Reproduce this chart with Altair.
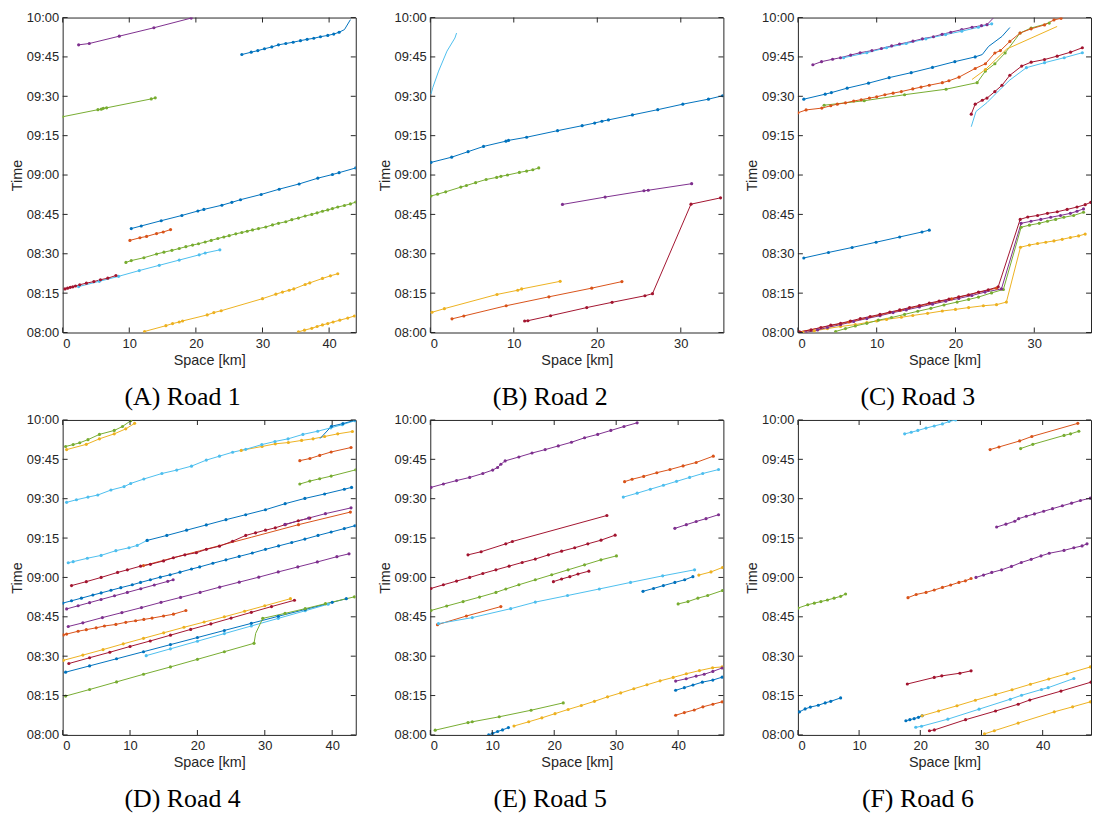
import altair as alt
import pandas as pd

# MATLAB default line colours, one per vehicle series
PALETTE = {
    "blue": "#0072BD", "orange": "#D95319", "yellow": "#EDB120", "purple": "#7E2F8E",
    "green": "#77AC30", "cyan": "#4DBEEE", "darkred": "#A2142F",
}
CAPTIONS = ["(A) Road 1", "(B) Road 2", "(C) Road 3", "(D) Road 4", "(E) Road 5", "(F) Road 6"]
X_MAX = [44.0, 35.1, 37.2, 43.5, 47.3, 47.9]          # road length [km]
X_TICKS = [0, 10, 20, 30, 40]
T_TICKS = [0, 15, 30, 45, 60, 75, 90, 105, 120]       # minutes after 08:00

# each trajectory: (colour, space [km], time [min after 08:00], optional marker flags)
ROAD1 = [
    ("purple", [2.4, 4.0, 8.5, 13.7, 19.3], [109.6, 110.1, 112.9, 116.1, 119.8]),
    ("blue", [26.9, 28.3, 29.3, 30.3, 31.4, 32.4, 33.5, 34.6, 35.7, 36.7, 37.7, 38.7, 39.8, 40.7, 41.5, 42.3, 43.2],
     [105.9, 106.8, 107.4, 108.1, 108.8, 109.6, 110.1, 110.6, 111.2, 111.7, 112.1, 112.7, 113.2, 113.7, 114.4, 115.4, 119.2],
     [1] * 15 + [0, 0]),
    ("green", [0.0, 5.3, 5.8, 6.1, 6.6, 13.3, 13.9], [82.2, 84.9, 85.1, 85.4, 85.6, 89.0, 89.4]),
    ("blue", [10.3, 11.8, 14.8, 17.9, 20.3, 21.2, 23.9, 25.4, 26.7, 29.8, 32.5, 35.5, 38.3, 40.5, 41.5, 44.0],
     [39.6, 40.6, 42.6, 44.6, 46.3, 46.9, 48.5, 49.6, 50.6, 52.6, 54.6, 56.6, 58.8, 60.2, 60.9, 62.7]),
    ("orange", [10.1, 11.6, 12.6, 14.1, 15.1, 16.2], [35.1, 36.1, 36.6, 37.7, 38.3, 39.2]),
    ("green", [9.5, 10.3, 12.2, 14.1, 15.2, 16.4, 17.5, 18.5, 19.5, 20.4, 21.4, 22.3, 23.3, 24.2, 25.0, 26.0, 26.9, 27.7,
               28.5, 29.4, 30.5, 31.5, 32.4, 33.5, 34.4, 35.4, 36.4, 37.4, 38.2, 39.0, 39.8, 40.5, 41.3, 42.3, 43.2, 44.0],
     [26.7, 27.4, 28.5, 29.9, 30.6, 31.3, 32.0, 32.7, 33.3, 33.8, 34.5, 35.1, 35.8, 36.4, 36.9, 37.6, 38.1, 38.6,
      39.1, 39.6, 40.2, 41.0, 41.6, 42.2, 43.0, 43.6, 44.4, 45.0, 45.6, 46.2, 46.7, 47.2, 47.8, 48.4, 49.0, 49.7]),
    ("cyan", [2.4, 5.5, 8.4, 11.5, 14.5, 17.5, 20.5, 21.4, 23.6], [17.5, 19.5, 21.4, 23.6, 25.6, 27.6, 29.6, 30.3, 31.5]),
    ("darkred", [0.35, 0.74, 1.14, 1.53, 1.93, 2.57, 3.56, 4.69, 5.68, 6.77, 8.0],
     [16.6, 16.9, 17.2, 17.4, 17.7, 18.2, 18.8, 19.4, 20.1, 20.7, 21.7]),
    ("yellow", [12.3, 15.5, 16.5, 17.5, 18.0, 21.7, 22.7, 23.8, 30.0, 32.0, 33.0, 34.0, 34.7, 36.4, 37.1, 39.0, 40.2, 41.3],
     [0.4, 2.6, 3.4, 4.0, 4.4, 6.7, 7.6, 8.3, 12.9, 14.6, 15.4, 16.1, 16.6, 18.3, 18.9, 20.6, 21.6, 22.4]),
    ("yellow", [35.4, 36.3, 37.4, 38.2, 39.0, 39.8, 40.6, 41.6, 42.8, 43.8], [0.25, 0.9, 1.6, 2.3, 2.9, 3.4, 4.0, 4.7, 5.5, 6.3]),
]

ROAD2 = [
    ("cyan", [0.08, 0.3, 1.0, 2.0, 2.95, 3.15], [90.8, 93.3, 99.6, 107.2, 112.2, 114.1], [0] * 6),
    ("blue", [0.08, 2.56, 4.53, 6.38, 9.06, 9.37, 11.54, 15.24, 18.19, 19.69, 20.55, 21.34, 24.21, 27.24, 30.24, 33.31, 35.0],
     [64.8, 66.8, 68.9, 70.9, 72.9, 73.2, 74.4, 76.9, 78.8, 79.8, 80.5, 81.0, 82.9, 84.9, 87.0, 88.9, 90.2]),
    ("green", [0.08, 0.87, 1.85, 3.66, 4.33, 5.43, 6.69, 7.95, 8.46, 9.25, 10.67, 11.54, 12.28, 12.99],
     [52.0, 52.7, 53.6, 55.4, 56.0, 57.1, 58.3, 59.1, 59.5, 60.0, 61.0, 61.5, 62.0, 62.7]),
    ("purple", [15.83, 20.94, 25.59, 26.10, 31.30], [48.8, 51.6, 54.0, 54.2, 56.7]),
    ("darkred", [11.30, 11.69, 14.41, 18.74, 21.77, 25.71, 26.61, 31.22, 34.76], [4.4, 4.5, 6.4, 9.5, 11.5, 14.0, 14.8, 48.9, 51.3]),
    ("orange", [2.60, 4.02, 9.09, 14.21, 19.33, 22.95], [5.2, 6.3, 10.2, 13.6, 16.9, 19.4]),
    ("yellow", [0.2, 1.69, 7.99, 10.47, 10.94, 15.55], [7.7, 9.1, 14.5, 16.1, 16.6, 19.5]),
]

ROAD3 = [
    ("purple", [1.9, 3.0, 4.4, 5.4, 6.7, 7.9, 9.4, 10.6, 11.9, 12.9, 14.6, 15.8, 17.2, 18.3, 19.4, 20.8, 22.1, 23.3, 24.0, 24.8],
     [102.0, 103.2, 104.1, 104.7, 105.7, 106.6, 107.4, 108.2, 109.2, 109.9, 111.0, 111.9, 112.7, 113.6, 114.4, 115.4, 116.3, 116.9, 117.3, 119.8],
     [1] * 19 + [0]),
    ("cyan", [5.8, 8.75, 11.25, 13.75, 16.25, 18.75, 20.8, 22.9, 24.6], [104.7, 106.6, 108.5, 110.1, 111.9, 113.5, 114.8, 116.3, 117.6]),
    ("blue", [0.75, 3.46, 4.25, 6.25, 8.96, 11.58, 14.38, 17.08, 19.92, 22.5, 23.4, 24.2, 25.9, 26.9],
     [88.9, 90.8, 91.4, 93.1, 95.0, 97.1, 99.0, 101.0, 103.2, 105.0, 105.9, 109.0, 112.8, 116.2], [1] * 10 + [0] * 4),
    ("green", [3.33, 8.42, 13.54, 18.8, 22.75, 23.8, 25.0, 26.3, 28.2, 29.6, 31.9],
     [86.6, 88.3, 90.6, 92.7, 95.2, 99.6, 102.4, 106.5, 114.1, 116.0, 117.9]),
    ("orange", [0.0, 1.04, 3.04, 4.17, 5.0, 6.04, 7.08, 8.04, 9.08, 10.0, 11.04, 12.08, 13.13, 14.58, 15.63, 16.67, 18.33,
                19.17, 20.45, 22.5, 23.8, 25.0, 25.7, 26.9, 28.2, 29.6, 31.3, 32.5, 33.4],
     [83.7, 84.8, 85.5, 86.4, 87.0, 87.5, 88.2, 88.7, 89.3, 89.8, 90.6, 91.2, 91.8, 92.8, 93.5, 94.2, 95.2,
      95.9, 97.3, 100.6, 102.4, 106.5, 107.4, 110.9, 114.1, 115.7, 117.2, 119.1, 119.7]),
    ("yellow", [22.1, 23.8, 26.5, 32.9], [96.4, 100.2, 108.0, 116.6], [0, 1, 0, 0]),
    ("darkred", [22.0, 22.5, 23.4, 24.0, 25.0, 25.9, 26.9, 28.4, 29.6, 31.3, 32.9, 34.6, 36.1],
     [83.2, 87.0, 88.5, 89.3, 91.8, 94.2, 98.0, 101.5, 103.0, 104.0, 105.3, 106.8, 108.5]),
    ("cyan", [22.0, 22.6, 24.0, 25.45, 26.9, 29.0, 31.3, 33.8, 36.1], [78.4, 84.2, 87.6, 92.0, 96.2, 100.9, 102.8, 104.7, 106.6],
     [0, 0, 0, 0, 0, 1, 1, 1, 1]),
    ("blue", [0.75, 3.88, 6.88, 9.92, 12.92, 15.75, 16.67], [28.4, 30.5, 32.4, 34.4, 36.4, 38.3, 39.0]),
    ("yellow", [0.63, 2.08, 3.75, 5.42, 7.29, 8.75, 10.0, 11.25, 13.13, 14.58, 16.46, 18.33, 20.0, 21.67, 23.54, 25.21, 26.46,
                28.25, 29.38, 30.42, 31.46, 32.5, 33.54, 34.58, 35.63, 36.46],
     [0.0, 0.6, 1.5, 2.3, 3.0, 3.8, 4.4, 5.0, 5.8, 6.5, 7.3, 8.2, 8.8, 9.5, 10.2, 10.6, 11.6,
      32.5, 33.3, 33.9, 34.4, 34.9, 35.5, 36.2, 36.8, 37.5]),
    ("green", [4.79, 6.04, 7.29, 8.75, 10.21, 11.88, 13.54, 15.21, 16.88, 18.54, 20.21, 21.67, 22.92, 24.58, 26.08,
               28.33, 29.38, 30.63, 31.67, 32.71, 33.75, 35.0, 36.25],
     [0.4, 1.5, 2.5, 3.5, 4.7, 5.7, 6.9, 8.1, 9.2, 10.5, 11.6, 12.6, 13.5, 15.1, 16.4,
      40.1, 40.9, 41.6, 42.4, 43.1, 43.9, 44.6, 45.8]),
    ("purple", [1.04, 2.5, 3.75, 5.42, 7.08, 8.75, 10.42, 12.08, 13.75, 15.42, 17.08, 18.75, 20.42, 22.08, 23.75, 25.83,
                28.33, 29.58, 30.83, 32.08, 33.33, 34.58, 35.42, 36.25],
     [0.0, 1.0, 1.9, 3.0, 4.2, 5.3, 6.4, 7.6, 8.6, 9.7, 10.8, 11.9, 13.0, 14.1, 15.4, 16.6,
      41.6, 42.4, 43.1, 43.9, 44.6, 45.4, 46.2, 47.1]),
    ("orange", [0.0, 6.5, 13.0, 19.5, 25.2], [0.1, 4.0, 8.5, 12.8, 16.9]),
    ("darkred", [0.21, 1.67, 2.92, 4.17, 5.42, 6.67, 7.92, 9.17, 10.42, 11.67, 12.92, 14.17, 15.42, 16.67, 17.92, 19.17,
                 20.42, 21.67, 22.92, 24.17, 25.42, 28.21, 29.17, 30.42, 31.67, 32.92, 34.17, 35.42, 36.46, 37.17],
     [0.25, 1.0, 1.9, 2.8, 3.5, 4.4, 5.3, 6.1, 6.9, 7.8, 8.6, 9.5, 10.3, 11.2, 12.0, 12.7,
      13.6, 14.4, 15.4, 16.3, 17.4, 43.1, 44.0, 44.6, 45.4, 46.0, 46.9, 47.8, 48.7, 49.6]),
]

ROAD4 = [
    ("green", [0.44, 1.56, 2.54, 3.76, 5.46, 7.66, 8.88, 10.1], [109.9, 110.6, 111.3, 112.5, 114.5, 116.0, 117.5, 119.7]),
    ("yellow", [0.59, 3.51, 5.46, 7.66, 9.37, 10.68], [108.7, 110.7, 112.8, 114.7, 116.6, 118.7]),
    ("yellow", [26.5, 29.6, 31.56, 33.5, 35.46, 37.17, 38.88, 40.83, 43.0], [108.4, 109.9, 110.9, 111.4, 112.2, 112.8, 113.7, 114.7, 115.6]),
    ("cyan", [0.59, 2.05, 3.76, 5.22, 7.17, 9.12, 10.1, 12.05, 14.73, 16.93, 19.12, 21.32, 23.27, 25.22, 27.17, 29.56,
              31.51, 33.46, 35.66, 37.85, 39.8, 41.51, 43.37],
     [88.6, 89.6, 90.6, 91.4, 93.3, 94.6, 95.8, 97.5, 99.6, 100.9, 102.4, 104.7, 106.2, 107.7, 108.8, 110.6,
      111.8, 112.8, 114.5, 115.7, 117.0, 118.2, 119.7]),
    ("blue", [38.2, 39.9, 41.6, 43.5], [112.9, 117.6, 118.6, 120.0], [0, 1, 1, 1]),
    ("orange", [35.2, 36.7, 38.15, 39.85, 42.8], [104.5, 105.3, 106.5, 107.8, 109.5]),
    ("green", [35.2, 36.68, 38.15, 39.85, 43.5], [95.6, 96.7, 97.6, 98.6, 101.0]),
    ("cyan", [0.83, 1.56, 3.66, 5.71, 7.9, 9.85, 11.07, 12.54], [65.6, 66.0, 67.3, 68.4, 70.2, 71.3, 72.2, 74.1]),
    ("blue", [12.54, 15.46, 18.39, 21.32, 24.24, 27.17, 30.1, 33.02, 35.95, 38.88, 41.8, 42.88],
     [74.1, 76.0, 78.0, 80.0, 82.0, 83.9, 85.8, 88.1, 90.1, 91.8, 93.6, 94.3]),
    ("orange", [12.0, 20.3, 28.0, 35.0, 42.7], [64.5, 70.1, 75.3, 80.1, 84.9], [1, 0, 0, 1, 1]),
    ("darkred", [1.32, 3.51, 5.71, 8.15, 9.61, 11.56, 13.02, 14.98, 16.44, 18.15, 19.85, 21.32, 23.27, 25.22, 27.17,
                 28.63, 30.1, 31.56, 33.02, 34.98, 36.68],
     [56.9, 58.4, 60.0, 61.9, 62.9, 64.3, 65.0, 66.3, 67.5, 68.6, 69.4, 70.7, 71.9, 73.8, 76.0,
      77.0, 78.0, 78.9, 80.1, 81.6, 82.6]),
    ("purple", [33.0, 36.5, 39.0, 42.8], [80.2, 82.6, 84.3, 86.5]),
    ("blue", [0.0, 1.32, 2.78, 4.49, 5.71, 7.17, 8.63, 10.34, 11.56, 13.02, 14.49, 15.95, 17.41, 19.12, 20.34, 22.29,
              24.24, 26.2, 28.15, 30.1, 32.05, 34.0, 35.95, 37.9, 39.85, 41.8, 43.37],
     [50.2, 51.1, 52.1, 53.3, 54.1, 55.1, 56.1, 57.2, 58.1, 59.1, 60.1, 61.0, 62.0, 63.2, 64.0, 65.4,
      66.7, 68.0, 69.3, 70.7, 72.0, 73.3, 74.6, 76.0, 77.3, 78.6, 79.7]),
    ("purple", [0.59, 2.3, 4.0, 5.7, 7.7, 9.6, 11.6, 13.6, 15.6, 16.4], [48.0, 49.2, 50.4, 51.6, 53.0, 54.3, 55.7, 57.1, 58.5, 59.1]),
    ("purple", [0.83, 3.0, 5.9, 8.8, 11.7, 14.6, 17.5, 20.4, 23.3, 26.2, 29.1, 32.0, 34.9, 37.8, 40.7, 42.5],
     [41.3, 42.7, 44.7, 46.6, 48.5, 50.5, 52.4, 54.3, 56.3, 58.2, 60.1, 62.1, 64.0, 65.9, 67.9, 69.0]),
    ("orange", [0.1, 0.59, 2.29, 3.51, 4.98, 6.2, 7.9, 9.37, 10.83, 12.05, 13.27, 14.98, 16.44, 18.29],
     [38.1, 38.4, 39.5, 40.1, 40.8, 41.5, 42.1, 42.9, 43.5, 44.0, 44.5, 45.3, 46.0, 47.4]),
    ("yellow", [0.1, 3.0, 6.0, 9.0, 12.0, 15.0, 18.0, 21.0, 24.0, 27.0, 30.0, 33.8],
     [28.4, 30.4, 32.5, 34.7, 36.8, 38.9, 41.0, 43.0, 45.0, 47.1, 49.2, 51.9]),
    ("darkred", [0.92, 4.0, 7.0, 10.0, 13.0, 16.0, 19.0, 22.0, 25.0, 28.0, 31.0, 34.4],
     [27.2, 29.4, 31.5, 33.7, 35.8, 38.0, 40.2, 42.3, 44.5, 46.7, 48.9, 51.3]),
    ("cyan", [12.4, 16.0, 20.0, 24.0, 28.0, 32.0, 36.0, 39.4], [30.2, 32.8, 35.7, 38.6, 41.5, 44.4, 47.3, 49.8]),
    ("blue", [0.44, 4.0, 8.0, 12.0, 16.0, 20.0, 24.0, 28.0, 32.0, 36.0, 40.0, 42.1],
     [23.9, 26.3, 29.0, 31.7, 34.4, 37.1, 39.8, 42.5, 45.2, 47.8, 50.5, 51.9]),
    ("green", [0.44, 4.0, 8.0, 12.0, 16.0, 20.0, 24.0, 28.4, 28.65, 29.7, 33.0, 36.0, 39.0, 43.3],
     [14.8, 17.3, 20.2, 23.1, 25.9, 28.8, 31.7, 34.9, 38.7, 44.4, 46.3, 48.1, 50.0, 52.6],
     [1] * 8 + [0] + [1] * 5),
]

ROAD5 = [
    ("purple", [0.11, 2.12, 4.24, 6.36, 8.48, 10.07, 10.86, 11.39, 12.08, 14.3, 16.42, 18.54, 20.66, 22.78, 24.9, 27.02,
                29.14, 31.26, 33.38],
     [94.3, 95.6, 96.9, 98.1, 99.6, 100.9, 101.9, 103.1, 104.4, 105.9, 107.4, 108.7, 110.1, 111.5, 113.2, 114.5,
      116.0, 117.5, 118.9]),
    ("orange", [31.36, 32.56, 34.44, 36.56, 38.68, 40.8, 42.91, 45.67], [96.5, 97.4, 98.5, 99.9, 101.1, 102.5, 103.8, 106.2]),
    ("cyan", [31.15, 33.38, 35.5, 37.62, 39.74, 41.85, 43.97, 46.52], [90.6, 92.1, 93.6, 95.1, 96.6, 98.1, 99.6, 101.1]),
    ("purple", [39.47, 41.32, 42.91, 44.5, 46.52], [78.7, 80.1, 81.3, 82.4, 83.9]),
    ("darkred", [6.09, 8.21, 12.19, 13.25, 28.5], [68.6, 69.8, 72.8, 73.7, 83.6]),
    ("darkred", [0.11, 2.12, 4.24, 6.36, 8.48, 10.6, 12.72, 14.83, 16.95, 19.07, 21.19, 23.31, 25.43, 27.55, 29.83],
     [55.8, 57.2, 58.6, 60.0, 61.5, 62.9, 64.3, 65.7, 67.0, 68.6, 70.0, 71.3, 72.8, 74.2, 76.1]),
    ("green", [0.11, 2.65, 5.3, 7.95, 10.6, 12.19, 14.3, 16.95, 19.6, 22.25, 24.9, 27.55, 30.04],
     [47.4, 49.1, 50.8, 52.5, 54.3, 55.6, 57.2, 59.1, 61.0, 62.9, 64.8, 66.7, 68.2]),
    ("darkred", [19.87, 21.19, 22.52, 23.84, 25.59], [58.4, 59.4, 60.3, 61.3, 62.4]),
    ("orange", [1.17, 5.83, 11.39], [42.0, 45.3, 48.9]),
    ("cyan", [1.32, 6.78, 12.98, 16.95, 22.15, 27.28, 32.32, 37.51, 42.65], [42.4, 44.7, 48.1, 50.6, 53.1, 55.6, 58.1, 60.6, 62.9]),
    ("blue", [34.33, 36.03, 37.62, 39.47, 41.06, 42.38], [54.7, 55.8, 56.9, 58.1, 59.1, 60.3]),
    ("yellow", [43.34, 45.3, 47.15], [60.9, 62.1, 63.8]),
    ("green", [40.0, 41.59, 43.18, 44.77, 47.15], [49.9, 50.8, 52.1, 53.1, 55.0]),
    ("green", [0.79, 6.09, 6.78, 11.13, 16.26, 21.46], [1.8, 4.7, 5.0, 6.9, 9.4, 12.2]),
    ("blue", [9.43, 10.07, 10.86, 11.66, 12.61], [0.0, 0.6, 1.3, 1.9, 2.8]),
    ("yellow", [13.51, 15.89, 18.01, 20.13, 22.25, 24.37, 26.49, 28.61, 30.73, 32.85, 34.97, 37.09, 39.2, 41.32, 43.44,
                45.56, 47.1],
     [3.4, 5.0, 6.5, 8.1, 9.7, 11.2, 12.8, 14.5, 16.0, 17.6, 19.1, 20.6, 21.9, 23.3, 24.5, 25.6, 25.9]),
    ("purple", [39.6, 41.3, 42.9, 44.2, 45.6, 47.1], [20.5, 21.4, 22.4, 23.1, 24.2, 25.5]),
    ("blue", [39.6, 41.0, 42.4, 43.9, 45.6, 47.1], [17.0, 18.0, 19.0, 20.1, 20.9, 22.0]),
    ("orange", [39.6, 41.0, 42.6, 44.0, 45.6, 47.1], [7.5, 8.5, 9.5, 10.7, 11.7, 12.6]),
]

ROAD6 = [
    ("cyan", [17.45, 18.52, 19.6, 20.94, 22.28, 23.62, 24.7, 25.77], [114.7, 115.3, 116.0, 116.9, 117.7, 118.5, 119.4, 120.0]),
    ("orange", [31.41, 32.86, 36.24, 38.23, 45.74], [108.7, 109.7, 112.0, 113.7, 118.7]),
    ("green", [36.4, 38.39, 43.49, 44.56, 45.91], [109.1, 110.7, 114.1, 114.7, 115.7]),
    ("purple", [32.48, 33.99, 35.44, 36.08, 37.32, 38.66, 40.16, 41.61, 43.22, 44.72, 46.17, 47.79],
     [79.2, 80.3, 81.4, 82.4, 83.3, 84.2, 85.2, 86.2, 87.3, 88.3, 89.3, 90.2]),
    ("purple", [29.1, 30.34, 31.68, 33.29, 34.9, 36.51, 38.12, 39.73, 41.07, 43.49, 45.1, 46.44, 47.25],
     [60.0, 60.9, 61.9, 62.9, 64.2, 65.7, 66.9, 68.2, 69.2, 70.3, 71.3, 72.0, 72.8]),
    ("orange", [17.99, 19.33, 20.94, 22.28, 23.62, 24.97, 26.31, 27.38, 28.3], [52.3, 53.5, 54.3, 55.2, 56.2, 57.1, 58.1, 58.7, 59.6]),
    ("green", [0.0, 1.61, 2.68, 3.76, 4.83, 5.91, 6.98, 7.79], [48.3, 49.6, 50.2, 50.8, 51.4, 52.1, 52.8, 53.7]),
    ("darkred", [17.88, 22.28, 23.52, 26.47, 28.3], [19.4, 21.9, 22.5, 23.5, 24.4]),
    ("blue", [0.27, 1.18, 2.04, 3.33, 4.46, 5.37, 6.98], [8.8, 9.9, 10.6, 11.3, 12.2, 12.8, 14.1]),
    ("cyan", [19.26, 20.2, 24.5, 29.6, 34.7, 36.55, 39.8, 40.9, 45.1], [2.9, 3.3, 6.0, 9.8, 13.6, 15.1, 17.3, 18.0, 21.5]),
    ("darkred", [21.5, 22.3, 27.4, 32.3, 36.0, 37.9, 43.0, 47.9], [1.6, 1.9, 5.8, 9.1, 11.7, 13.3, 16.7, 20.1]),
    ("yellow", [30.5, 32.1, 36.0, 41.9, 44.9, 47.8], [0.4, 1.6, 4.5, 8.8, 10.7, 12.6]),
    ("blue", [17.65, 18.3, 19.0, 19.7, 20.3], [5.4, 5.8, 6.2, 6.7, 7.3]),
    ("yellow", [20.3, 23.0, 26.0, 29.0, 32.3, 35.0, 38.0, 41.0, 44.0, 47.8], [7.3, 9.1, 11.1, 13.2, 15.4, 17.2, 19.3, 21.3, 23.3, 25.9]),
]

ROADS = [ROAD1, ROAD2, ROAD3, ROAD4, ROAD5, ROAD6]

INK = "#262626"
SANS = "Liberation Sans"
PLOT_W = 295
TICK_LEN = 5


def to_frame(trajs):
    rows = []
    for k, tr in enumerate(trajs):
        colour, xs, ts = tr[0], tr[1], tr[2]
        marks = tr[3] if len(tr) > 3 else [1] * len(xs)
        for i, (x, t, m) in enumerate(zip(xs, ts, marks)):
            rows.append({"tid": k, "i": i, "x": x, "t": t, "m": m, "hex": PALETTE[colour]})
    return pd.DataFrame(rows)


T_LABEL = ("(datum.value < 120 ? '0' + (8 + floor(datum.value / 60)) : '10') + ':' + "
           "(datum.value % 60 == 0 ? '00' : '' + (datum.value % 60))")


def axis_common(**kw):
    return alt.Axis(grid=False, domain=False, ticks=False, minExtent=0,
                    labelFont=SANS, labelFontSize=13, labelColor=INK,
                    titleFont=SANS, titleFontSize=14.5, titleFontWeight="normal", titleColor=INK, **kw)


Y_AXIS = axis_common(values=T_TICKS, title="Time", labelExpr=T_LABEL, labelPadding=4, titlePadding=2)


def panel(trajs, xmax, caption, h):
    df = to_frame(trajs)
    xticks = [v for v in X_TICKS if v <= xmax]
    x_axis = axis_common(values=xticks, title="Space [km]", labelPadding=5, titlePadding=3)
    xs = alt.Scale(domain=[0, xmax], nice=False, zero=False)
    ys = alt.Scale(domain=[0, 120], nice=False, zero=False)
    X = lambda: alt.X("x:Q", scale=xs, axis=x_axis)
    Y = lambda: alt.Y("t:Q", scale=ys, axis=Y_AXIS)
    col = alt.Color("hex:N", scale=None, legend=None)

    lines = alt.Chart(df).mark_line(strokeWidth=1, clip=True).encode(
        x=X(), y=Y(), detail="tid:N", color=col, order="i:Q")
    pts = alt.Chart(df).transform_filter("datum.m == 1").mark_circle(size=10, opacity=1, clip=True).encode(
        x=X(), y=Y(), color=col)

    # inward-pointing ticks on all four sides of the box (MATLAB style)
    xt = pd.DataFrame({"x": xticks})
    yt = pd.DataFrame({"t": T_TICKS})
    half = TICK_LEN / 2
    tick_style = dict(size=TICK_LEN, thickness=1, color=INK, opacity=1)
    x_ticks = [
        alt.Chart(xt).mark_tick(orient="vertical", **tick_style).encode(x=X(), y=alt.value(pos))
        for pos in (half, h - half)
    ]
    y_ticks = [
        alt.Chart(yt).mark_tick(orient="horizontal", **tick_style).encode(y=Y(), x=alt.value(pos))
        for pos in (half, PLOT_W - half)
    ]
    return alt.layer(lines, pts, *x_ticks, *y_ticks).properties(
        width=PLOT_W, height=h,
        title=alt.TitleParams(caption, orient="bottom", anchor="middle", frame="bounds",
                              font="Liberation Serif", fontSize=26, fontWeight="normal",
                              color="black", offset=17))


panels = [panel(ROADS[i], X_MAX[i], CAPTIONS[i], 317) for i in range(6)]
chart = alt.vconcat(
    alt.hconcat(*panels[:3], spacing=19),
    alt.hconcat(*panels[3:], spacing=19),
    spacing=3,
).properties(padding=0).configure_view(stroke=INK, strokeWidth=1)

chart.save("out.html", embed_options={"renderer": "svg", "actions": False})
